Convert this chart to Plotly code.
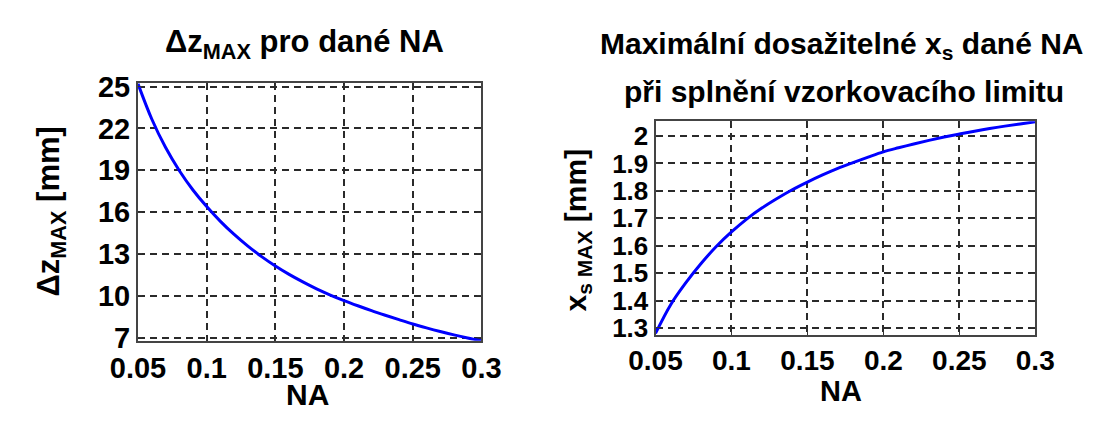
import plotly.graph_objects as go

# ---- data ----
na = [0.05, 0.06, 0.07, 0.08, 0.09, 0.10, 0.11, 0.12, 0.13, 0.14, 0.15, 0.16, 0.17,
      0.18, 0.19, 0.20, 0.21, 0.22, 0.23, 0.24, 0.25, 0.26, 0.27, 0.28, 0.29, 0.30]
dz_max = [25.2, 22.68, 20.65, 18.99, 17.59, 16.4, 15.34, 14.40, 13.56, 12.81, 12.14, 11.54,
          11.0, 10.5, 10.06, 9.66, 9.29, 8.94, 8.61, 8.29, 7.98, 7.70, 7.44, 7.20, 6.98, 6.78]
xs_max = [1.28, 1.385, 1.465, 1.535, 1.597, 1.65, 1.697, 1.737, 1.772, 1.804, 1.832,
          1.858, 1.882, 1.903, 1.923, 1.942, 1.957, 1.971, 1.984, 1.996, 2.007, 2.017,
          2.027, 2.036, 2.044, 2.052]

x_ticks = [0.05, 0.1, 0.15, 0.2, 0.25, 0.3]
x_ticklabels = ["0.05", "0.1", "0.15", "0.2", "0.25", "0.3"]
y1_ticks = [7, 10, 13, 16, 19, 22, 25]
y1_ticklabels = ["7", "10", "13", "16", "19", "22", "25"]
y2_ticks = [1.3, 1.4, 1.5, 1.6, 1.7, 1.8, 1.9, 2.0]
y2_ticklabels = ["1.3", "1.4", "1.5", "1.6", "1.7", "1.8", "1.9", "2"]

W, H = 1105, 425
FONT = "Liberation Sans, Arial, sans-serif"

fig = go.Figure()
fig.add_trace(go.Scatter(x=na, y=dz_max, mode="lines", line=dict(color="#0000ff", width=3, shape="spline"),
                         xaxis="x", yaxis="y", showlegend=False))
fig.add_trace(go.Scatter(x=na, y=xs_max, mode="lines", line=dict(color="#0000ff", width=3, shape="spline"),
                         xaxis="x2", yaxis="y2", showlegend=False))

def ax(size, **kw):
    base = dict(showline=True, linecolor="#444444", linewidth=2, mirror="ticks",
                ticks="inside", ticklen=4, tickcolor="#333333", tickwidth=1,
                showgrid=True, gridcolor="#2a2a2a", gridwidth=1.6, griddash="7px,5px",
                zeroline=False, fixedrange=True,
                tickfont=dict(family=FONT, size=size, color="black", weight="bold"))
    base.update(kw)
    return base

left_x = [115 / W, 474 / W]
left_y = [1 - 349.3 / H, 1 - 75 / H]
right_x = [656 / W, 1053 / W]
right_y = [1 - 343 / H, 1 - 116 / H]

fig.update_layout(
    width=W, height=H, margin=dict(l=0, r=0, t=0, b=0),
    paper_bgcolor="white", plot_bgcolor="white",
    xaxis=ax(29, domain=left_x, range=[0.05, 0.3], tickvals=x_ticks, ticktext=x_ticklabels, anchor="y"),
    yaxis=ax(29, domain=left_y, range=[6.78, 25.29], tickvals=y1_ticks, ticktext=y1_ticklabels, anchor="x"),
    xaxis2=ax(28, domain=right_x, range=[0.05, 0.3], tickvals=x_ticks, ticktext=x_ticklabels, anchor="y2"),
    yaxis2=ax(26, domain=right_y, range=[1.275, 2.054], tickvals=y2_ticks, ticktext=y2_ticklabels, anchor="x2"),
)

def ann(text, x, y, size, angle=0):
    fig.add_annotation(text=text, x=x / W, y=1 - y / H, xref="paper", yref="paper",
                       showarrow=False, textangle=angle, xanchor="center", yanchor="middle",
                       font=dict(family=FONT, size=size, color="black", weight="bold"))

ann("Δz<sub>MAX</sub> pro dané NA", 289, 34, 31)
ann("NA", 292, 406, 30)
ann("Δz<sub>MAX</sub> [mm]", 24, 212, 31, -90)

ann("Maximální dosažitelné x<sub>s</sub> dané NA", 851, 36, 30)
ann("při splnění vzorkovacího limitu", 853, 84, 30)
ann("NA", 850, 403, 29)
ann("x<sub>s MAX</sub> [mm]", 574, 232, 30, -90)

fig.write_html("out.html")
